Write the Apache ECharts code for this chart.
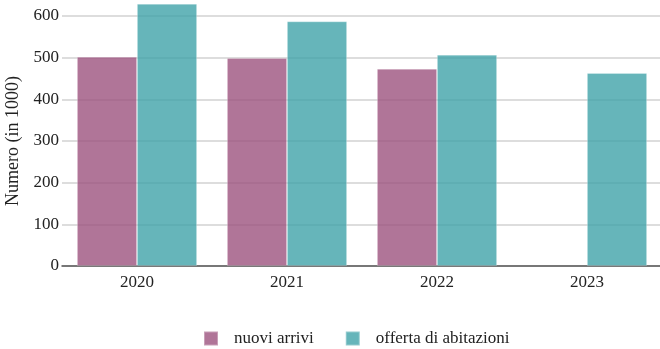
<!DOCTYPE html>
<html>
<head>
<meta charset="utf-8">
<script src="https://cdn.jsdelivr.net/npm/echarts@6/dist/echarts.min.js"></script>
<style>
  html, body { margin: 0; padding: 0; background: #fff; }
  #chart { width: 660px; height: 349px; }
</style>
</head>
<body>
<div id="chart"></div>
<script>
// Anni e valori (in migliaia)
const years = ['2020', '2021', '2022', '2023'];
const nuoviArrivi = [502, 499, 473, null];
const offertaAbitazioni = [629, 587, 507, 463];
const yTicks = [0, 100, 200, 300, 400, 500, 600];

const FONT = 'Liberation Serif, Times New Roman, serif';
const PURPLE = 'rgba(156, 82, 126, 0.8)';
const TEAL = 'rgba(64, 162, 169, 0.8)';

const chart = echarts.init(document.getElementById('chart'));
chart.setOption({
  animation: false,
  textStyle: { fontFamily: FONT },
  grid: { left: 62, top: 16, width: 600, bottom: 83, containLabel: false, outerBoundsMode: 'none' },
  legend: {
    top: 330,
    left: 203,
    padding: 0,
    itemWidth: 14,
    itemHeight: 14,
    itemGap: 31,
    icon: 'rect',
    textStyle: { fontFamily: FONT, fontSize: 17, color: '#222', padding: [0, 0, 0, 11] },
    data: ['nuovi arrivi', 'offerta di abitazioni']
  },
  xAxis: {
    type: 'category',
    data: years,
    axisTick: { show: false },
    axisLine: { lineStyle: { color: '#555', width: 1.5 } },
    axisLabel: { fontFamily: FONT, fontSize: 17, color: '#222', margin: 8 }
  },
  yAxis: {
    type: 'value',
    min: yTicks[0],
    max: yTicks[yTicks.length - 1],
    interval: 100,
    name: 'Numero (in 1000)',
    nameLocation: 'middle',
    nameGap: 40,
    nameTextStyle: { fontFamily: FONT, fontSize: 18, color: '#222' },
    axisLine: { show: false },
    axisTick: { show: false },
    axisLabel: { fontFamily: FONT, fontSize: 17, color: '#222', margin: 3 },
    splitLine: { lineStyle: { color: '#d2d2d2', width: 1.5 } }
  },
  series: [
    {
      name: 'nuovi arrivi',
      type: 'bar',
      data: nuoviArrivi,
      barGap: '0%',
      barCategoryGap: '20%',
      clip: false,
      itemStyle: { color: PURPLE, borderColor: 'rgba(255,255,255,0.3)', borderWidth: 0.8 }
    },
    {
      name: 'offerta di abitazioni',
      type: 'bar',
      data: offertaAbitazioni,
      barGap: '0%',
      barCategoryGap: '20%',
      clip: false,
      itemStyle: { color: TEAL, borderColor: 'rgba(255,255,255,0.3)', borderWidth: 0.8 }
    }
  ]
});
</script>
</body>
</html>
